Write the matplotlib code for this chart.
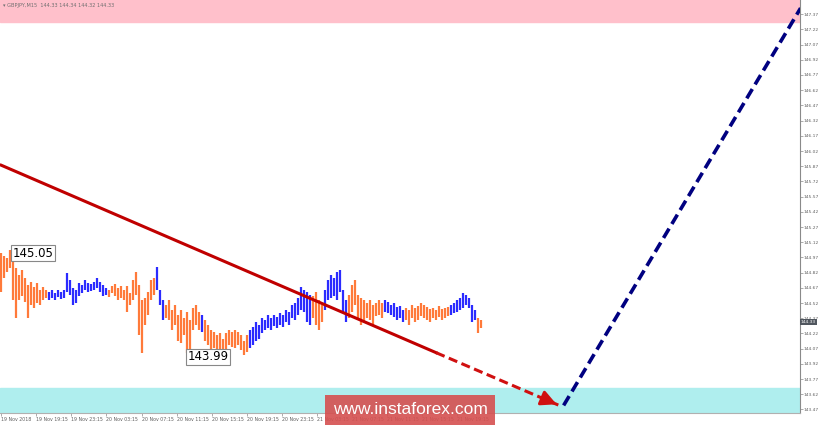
import numpy as np
import matplotlib
matplotlib.use('Agg')
import matplotlib.pyplot as plt
from matplotlib.collections import LineCollection


# GBPJPY M15 bars, left to right (high / low)
highs = [145.01, 144.98, 144.96, 145.04, 144.93, 144.87, 144.80, 144.85, 144.77, 144.70,
         144.73, 144.68, 144.72, 144.65, 144.68, 144.65, 144.63, 144.65, 144.62, 144.65,
         144.63, 144.65, 144.82, 144.75, 144.67, 144.65, 144.72, 144.70, 144.75, 144.72,
         144.71, 144.73, 144.77, 144.73, 144.70, 144.67, 144.65, 144.69, 144.71, 144.67,
         144.69, 144.65, 144.69, 144.62, 144.75, 144.83, 144.70, 144.55, 144.57, 144.63,
         144.75, 144.77, 144.88, 144.65, 144.55, 144.50, 144.55, 144.45, 144.50, 144.40,
         144.45, 144.37, 144.43, 144.35, 144.47, 144.50, 144.43, 144.40, 144.35, 144.30,
         144.25, 144.23, 144.20, 144.22, 144.17, 144.22, 144.25, 144.23, 144.25, 144.23,
         144.20, 144.15, 144.20, 144.25, 144.28, 144.33, 144.30, 144.37, 144.35, 144.40,
         144.37, 144.40, 144.38, 144.42, 144.40, 144.45, 144.43, 144.50, 144.52, 144.57,
         144.68, 144.65, 144.63, 144.60, 144.59, 144.63, 144.55, 144.50, 144.65, 144.75,
         144.80, 144.77, 144.83, 144.85, 144.65, 144.55, 144.60, 144.70, 144.75, 144.60,
         144.57, 144.55, 144.52, 144.55, 144.50, 144.52, 144.55, 144.52, 144.55, 144.53,
         144.50, 144.52, 144.48, 144.49, 144.45, 144.47, 144.45, 144.50, 144.47, 144.49,
         144.52, 144.50, 144.48, 144.46, 144.47, 144.45, 144.49, 144.46, 144.47, 144.48,
         144.50, 144.52, 144.55, 144.57, 144.62, 144.60, 144.57, 144.50, 144.45, 144.37,
         144.35]
lows = [144.63, 144.77, 144.83, 144.87, 144.55, 144.37, 144.55, 144.59, 144.53, 144.37,
        144.50, 144.47, 144.52, 144.50, 144.55, 144.57, 144.55, 144.57, 144.55, 144.58,
        144.56, 144.57, 144.63, 144.60, 144.50, 144.52, 144.59, 144.62, 144.65, 144.63,
        144.64, 144.65, 144.67, 144.63, 144.59, 144.60, 144.58, 144.62, 144.59, 144.55,
        144.57, 144.55, 144.43, 144.50, 144.55, 144.60, 144.20, 144.03, 144.30, 144.40,
        144.55, 144.60, 144.65, 144.50, 144.35, 144.37, 144.35, 144.25, 144.30, 144.15,
        144.13, 144.20, 144.03, 143.99, 144.25, 144.30, 144.25, 144.23, 144.15, 144.11,
        144.06, 144.08, 144.06, 144.01, 144.04, 144.06, 144.11, 144.09, 144.08, 144.11,
        144.06, 144.01, 144.04, 144.08, 144.11, 144.15, 144.17, 144.22, 144.25, 144.27,
        144.25, 144.29, 144.27, 144.30, 144.28, 144.33, 144.30, 144.37, 144.35, 144.40,
        144.45, 144.43, 144.33, 144.30, 144.37, 144.30, 144.25, 144.33, 144.45, 144.55,
        144.57, 144.59, 144.55, 144.63, 144.43, 144.33, 144.37, 144.43, 144.50, 144.35,
        144.30, 144.33, 144.37, 144.35, 144.30, 144.39, 144.40, 144.37, 144.43, 144.42,
        144.40, 144.38, 144.35, 144.37, 144.33, 144.35, 144.30, 144.37, 144.33, 144.35,
        144.39, 144.37, 144.35, 144.33, 144.37, 144.35, 144.38, 144.35, 144.37, 144.39,
        144.40, 144.42, 144.43, 144.45, 144.47, 144.50, 144.47, 144.33, 144.35, 144.22,
        144.27]
# zigzag colouring: (number of bars, colour)
runs = [(16, 'o'), (20, 'b'), (16, 'o'), (3, 'b'), (12, 'o'), (1, 'b'), (15, 'o'),
        (21, 'b'), (4, 'o'), (8, 'b'), (12, 'o'), (7, 'b'), (15, 'o'), (9, 'b'), (2, 'o')]

trend_x = [0, 145, 186]          # solid part ends at 145, dashed to the target
trend_y = [145.88, 144.03, 143.51]
up_x = [187.5, 266.5]
up_y = [143.51, 147.43]

last_price = 144.33
peak_label = (3.8, 145.01, '145.05')
trough_label = (62, 143.99, '143.99')
ticks_y = [143.47, 143.62, 143.77, 143.92, 144.07, 144.22, 144.37, 144.52, 144.67,
           144.82, 144.97, 145.12, 145.27, 145.42, 145.57, 145.72, 145.87, 146.02,
           146.17, 146.32, 146.47, 146.62, 146.77, 146.92, 147.07, 147.22, 147.37]
date_labels = ['19 Nov 2018', '19 Nov 19:15', '19 Nov 23:15', '20 Nov 03:15',
               '20 Nov 07:15', '20 Nov 11:15', '20 Nov 15:15', '20 Nov 19:15',
               '20 Nov 23:15', '21 Nov 03:15', '21 Nov 07:15', '21 Nov 11:15',
               '21 Nov 15:15', '21 Nov 19:15']

COLORS = {'o': '#ff7a3a', 'b': '#2b2bff'}
YMIN, YMAX = 143.435, 147.51
XMAX = 266.7

fig = plt.figure(figsize=(8.2, 4.26), dpi=100)
ax = fig.add_axes([0, 13 / 426, 800 / 820, 413 / 426])
ax.set_xlim(-0.4, XMAX - 0.4)
ax.set_ylim(YMIN, YMAX)

# support / resistance zones
ax.axhspan(147.29, YMAX, color='#ffc0cb', zorder=0)
ax.axhspan(YMIN, 143.68, color='#afeeee', zorder=0)

# bars
cols = []
for n, c in runs:
    cols += [COLORS[c]] * n
xs = np.arange(len(highs))
segs = [[(x, l), (x, h)] for x, h, l in zip(xs, highs, lows)]
ax.add_collection(LineCollection(segs, colors=cols, linewidths=1.6, zorder=2))

# trend line and targets
ax.plot(trend_x[:2], trend_y[:2], color='#c00000', lw=2.2, zorder=3)
ax.plot(trend_x[1:], trend_y[1:], color='#d01010', lw=2.2, ls=(0, (3, 1.5)), zorder=3)
slope = (trend_y[2] - trend_y[1]) / (trend_x[2] - trend_x[1])
ax.annotate('', xy=(trend_x[2], trend_y[2]), xytext=(trend_x[2] - 5, trend_y[2] - 5 * slope),
            arrowprops=dict(arrowstyle='-|>,head_length=0.9,head_width=0.45',
                            color='#d01010', lw=2.2), zorder=4)
ax.plot(up_x, up_y, color='#000080', lw=2.6, ls=(0, (3, 1.5)), zorder=3)
ax.annotate('', xy=(up_x[1], up_y[1]), xytext=(up_x[1] - 3, up_y[1] - 0.15),
            arrowprops=dict(arrowstyle='-|>,head_length=1.0,head_width=0.5',
                            color='#000080', lw=2.6), zorder=4)

# price labels
for x, y, s in [peak_label, trough_label]:
    ax.text(x, y, s, fontsize=8.5, va='center', ha='left', zorder=5,
            bbox=dict(boxstyle='square,pad=0.12', fc='white', ec='#888888', lw=0.8))

# axes styling
for s in ['top', 'left']:
    ax.spines[s].set_visible(False)
ax.spines['right'].set_color('#8a8a8a')
ax.spines['bottom'].set_color('#b0b0b0')
ax.yaxis.tick_right()
ax.set_yticks(ticks_y)
ax.set_yticklabels(['%.2f' % t for t in ticks_y])
ax.tick_params(axis='y', labelsize=3.2, labelcolor='#606060', color='#8a8a8a',
               length=2, width=0.5, pad=0.8)
date_pos = np.arange(len(date_labels)) * 35.1 / 3
ax.set_xticks(date_pos)
ax.set_xticklabels(date_labels, ha='left')
ax.tick_params(axis='x', labelsize=3.4, labelcolor='#606060', color='#8a8a8a',
               length=2, width=0.5, pad=1)

ax.text(XMAX - 0.1, last_price, '%.2f' % last_price, transform=ax.transData,
        fontsize=3.2, color='white', va='center', ha='left', clip_on=False,
        bbox=dict(boxstyle='square,pad=0.2', fc='#50565e', ec='none'), zorder=6)
ax.text(0.004, 0.986, '\u25be GBPJPY,M15  144.33 144.34 144.32 144.33', transform=ax.transAxes,
        fontsize=3.6, color='#707070', va='center', ha='left')

# watermark
fig.text(410 / 820, 16 / 426, 'www.instaforex.com', fontsize=12.5, family='Liberation Sans',
         color='white', ha='center', va='center',
         bbox=dict(boxstyle='square,pad=0.45', fc='#d55050', ec='none', alpha=0.9))

fig.savefig('out.png', dpi=100)
